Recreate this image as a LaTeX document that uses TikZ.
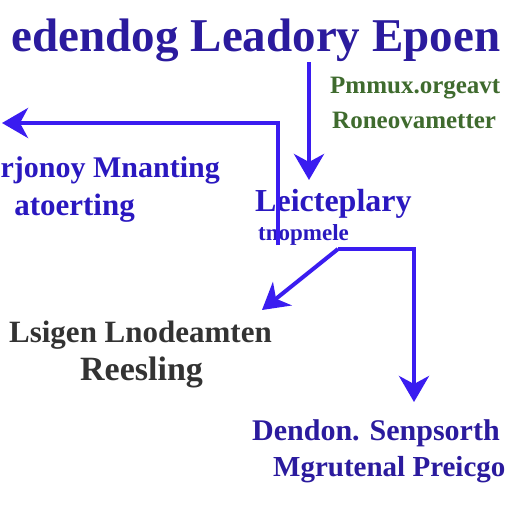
\documentclass[tikz,border=0pt]{standalone}
\usepackage{fontspec}
\setmainfont{Liberation Serif}
\usetikzlibrary{arrows.meta}
\definecolor{indigo}{HTML}{2B1B9E}
\definecolor{arrowblue}{HTML}{3A1CF0}
\definecolor{txtblue}{HTML}{2A18C0}
\definecolor{dgreen}{HTML}{3F6B2E}
\definecolor{dgray}{HTML}{333333}
\tikzset{
  lbl/.style={inner sep=0pt, font=\bfseries\fontsize{#1}{#1}\selectfont},
  conn/.style={draw=arrowblue, line width=4pt},
  tip/.style={-{Stealth[length=26pt,width=30pt,inset=8pt]}}
}
\begin{document}
\begin{tikzpicture}[x=1pt,y=-1pt]
\useasboundingbox[fill=white] (0,0) rectangle (512,512);
% texts
\node[lbl=47, text=indigo] (title) at (256,40) {edendog Leadory Epoen};
\node[lbl=25, text=dgreen, anchor=west] (g1) at (330,88) {Pmmux.orgeavt};
\node[lbl=25, text=dgreen, anchor=west] (g2) at (332,120) {Roneovametter};
\node[lbl=30, text=txtblue, anchor=east] (m1) at (220,170) {rjonoy Mnanting};
\node[lbl=31, text=txtblue, anchor=east] (m2) at (135,208) {atoerting};
\node[lbl=32, text=txtblue, anchor=west] (c1) at (255,204) {Leicteplary};
\node[lbl=23, text=txtblue, anchor=west] (c2) at (258,235) {tnopmele};
\node[lbl=31, text=dgray, anchor=east] (l1) at (272,335) {Lsigen Lnodeamten};
\node[lbl=34, text=dgray, anchor=west] (l2) at (80,372) {Reesling};
\node[lbl=30, text=indigo, anchor=west] (b1) at (252,433) {Dendon. Senpsorth};
\node[lbl=29, text=indigo, anchor=west] (b2) at (273,470) {Mgrutenal Preicgo};
% connector coordinates
\coordinate (t0) at (309,62);
\coordinate (t1) at (309,180);
\coordinate (v0) at (278,245);
\coordinate (v1) at (278,123);
\coordinate (v2) at (2,123);
\coordinate (s0) at (338,249);
\coordinate (s1) at (414,249);
\coordinate (s2) at (414,402);
\coordinate (d1) at (262,310);
% connectors
\draw[conn, tip] (t0) -- (t1);
\draw[conn, tip] (v0) -- (v1) -- (v2);
\draw[conn, tip] (s0) -- (s1) -- (s2);
\draw[conn, tip] (s0) -- (d1);
\end{tikzpicture}
\end{document}
